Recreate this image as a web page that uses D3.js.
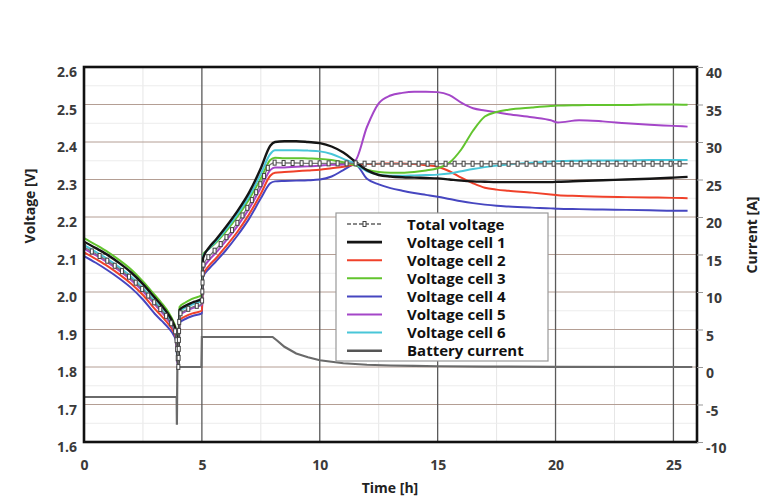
<!DOCTYPE html>
<html>
<head>
<meta charset="utf-8">
<script src="https://cdn.jsdelivr.net/npm/d3@7"></script>
<style>
  body { margin: 0; background: #fff; }
  text { font-family: "Open Sans", "DejaVu Sans", sans-serif; }
</style>
</head>
<body>
<script>
// time axis [h], shared by the voltage series
var times = [0, 0.5, 1, 1.5, 2, 2.5, 3, 3.3, 3.6, 3.8, 3.9, 3.97, 4.0,
             4.05, 4.3, 4.6, 5.0,
             5.05, 5.3, 5.6, 6, 6.5, 7, 7.5, 7.9, 8.1,
             8.5, 9, 9.5, 10, 10.5, 11, 11.5, 12, 12.5, 13, 13.5, 14, 14.5, 15,
             15.5, 16, 16.5, 17, 17.5, 18, 19, 19.8, 20.1, 21, 22, 23, 24, 25, 25.6];

// voltages [V]
var totalVoltage = [2.120, 2.102, 2.083, 2.061, 2.036, 2.006, 1.971, 1.950, 1.926, 1.904, 1.886, 1.83, 1.80,
                    1.940, 1.951, 1.960, 1.968,
                    2.070, 2.095, 2.114, 2.143, 2.184, 2.232, 2.290, 2.340, 2.345,
                    2.344, 2.344, 2.343, 2.343, 2.343, 2.343, 2.343, 2.342, 2.342, 2.342, 2.342, 2.342, 2.342, 2.342,
                    2.342, 2.342, 2.342, 2.342, 2.342, 2.342, 2.342, 2.342, 2.342, 2.342, 2.342, 2.342, 2.342, 2.342, 2.342];
var cell1 = [2.134, 2.117, 2.099, 2.077, 2.052, 2.021, 1.985, 1.963, 1.938, 1.915, 1.895, 1.83, 1.80,
             1.952, 1.963, 1.972, 1.982,
             2.090, 2.118, 2.140, 2.172, 2.215, 2.265, 2.330, 2.390, 2.400,
             2.402, 2.402, 2.400, 2.397, 2.388, 2.372, 2.348, 2.325, 2.312, 2.308, 2.306, 2.305, 2.304, 2.303,
             2.300, 2.297, 2.295, 2.294, 2.293, 2.293, 2.293, 2.293, 2.294, 2.296, 2.298, 2.300, 2.302, 2.305, 2.307];
var cell2 = [2.106, 2.088, 2.069, 2.047, 2.022, 1.992, 1.955, 1.935, 1.913, 1.894, 1.877, 1.82, 1.80,
             1.925, 1.935, 1.943, 1.950,
             2.045, 2.070, 2.090, 2.120, 2.160, 2.207, 2.262, 2.310, 2.318,
             2.320, 2.322, 2.324, 2.326, 2.330, 2.334, 2.340, 2.341, 2.342, 2.343, 2.343, 2.341, 2.338, 2.334,
             2.322, 2.305, 2.290, 2.278, 2.273, 2.270, 2.265, 2.260, 2.258, 2.256, 2.254, 2.253, 2.252, 2.251, 2.250];
var cell3 = [2.144, 2.126, 2.107, 2.085, 2.060, 2.028, 1.992, 1.970, 1.944, 1.920, 1.900, 1.84, 1.80,
             1.960, 1.972, 1.982, 1.992,
             2.100, 2.115, 2.132, 2.160, 2.200, 2.247, 2.303, 2.352, 2.358,
             2.357, 2.357, 2.356, 2.355, 2.352, 2.346, 2.338, 2.326, 2.320, 2.318, 2.318, 2.320, 2.324, 2.330,
             2.345, 2.380, 2.430, 2.468, 2.480, 2.486, 2.492, 2.496, 2.497, 2.498, 2.499, 2.499, 2.500, 2.500, 2.499];
var cell4 = [2.096, 2.078, 2.058, 2.036, 2.011, 1.980, 1.942, 1.923, 1.903, 1.885, 1.870, 1.81, 1.80,
             1.918, 1.928, 1.936, 1.943,
             2.040, 2.062, 2.082, 2.110, 2.150, 2.195, 2.250, 2.290, 2.295,
             2.296, 2.297, 2.298, 2.300, 2.308, 2.325, 2.340, 2.302, 2.287, 2.277, 2.270, 2.264, 2.259, 2.254,
             2.248, 2.242, 2.237, 2.233, 2.230, 2.228, 2.225, 2.223, 2.222, 2.221, 2.220, 2.219, 2.218, 2.217, 2.217];
var cell5 = [2.116, 2.098, 2.079, 2.057, 2.032, 2.002, 1.967, 1.946, 1.922, 1.901, 1.883, 1.82, 1.80,
             1.938, 1.948, 1.957, 1.966,
             2.060, 2.085, 2.105, 2.135, 2.175, 2.222, 2.278, 2.325, 2.332,
             2.332, 2.334, 2.335, 2.337, 2.339, 2.340, 2.350, 2.440, 2.503, 2.524, 2.531, 2.534, 2.534, 2.533,
             2.525, 2.505, 2.490, 2.484, 2.479, 2.474, 2.466, 2.458, 2.452, 2.458, 2.455, 2.450, 2.446, 2.443, 2.441];
var cell6 = [2.125, 2.107, 2.088, 2.066, 2.041, 2.010, 1.975, 1.953, 1.929, 1.907, 1.888, 1.83, 1.80,
             1.948, 1.958, 1.967, 1.977,
             2.095, 2.115, 2.135, 2.165, 2.207, 2.255, 2.315, 2.368, 2.378,
             2.378, 2.378, 2.377, 2.375, 2.368, 2.355, 2.342, 2.322, 2.313, 2.310, 2.310, 2.311, 2.312, 2.313,
             2.316, 2.322, 2.328, 2.333, 2.337, 2.340, 2.345, 2.348, 2.349, 2.350, 2.351, 2.351, 2.352, 2.352, 2.352];

// battery current [A], own time base
var currentTimes = [0, 3.93, 3.94, 3.96, 4.0, 4.98, 5.0, 8.0, 8.2, 8.5, 9, 9.5, 10, 10.5, 11, 12, 13, 14, 15, 17, 20, 25.8];
var current = [-4, -4, -7.7, 0, 0, 0, 4, 4, 3.5, 2.7, 1.8, 1.3, 0.9, 0.7, 0.5, 0.3, 0.2, 0.15, 0.1, 0.05, 0.02, 0];

// tick labels
var timeTicks = [0, 5, 10, 15, 20, 25];
var voltTicks = [1.6, 1.7, 1.8, 1.9, 2.0, 2.1, 2.2, 2.3, 2.4, 2.5, 2.6];
var ampTicks = [-10, -5, 0, 5, 10, 15, 20, 25, 30, 35, 40];

var legendNames = ["Total voltage", "Voltage cell 1", "Voltage cell 2", "Voltage cell 3",
                   "Voltage cell 4", "Voltage cell 5", "Voltage cell 6", "Battery current"];

draw();

function draw() {
  var W = 772, H = 504;
  var left = 84, right = 697, top = 67, bottom = 442;

  var svg = d3.select("body").append("svg")
    .attr("width", W).attr("height", H);

  var x = d3.scaleLinear().domain([0, 26]).range([left, right]);
  var y = d3.scaleLinear().domain([1.6, 2.6]).range([bottom, top]);
  var yA = d3.scaleLinear().domain([-10, 40]).range([bottom, top]);

  svg.append("clipPath").attr("id", "plot")
    .append("rect").attr("x", left).attr("y", top)
    .attr("width", right - left).attr("height", bottom - top);

  // faint minor grid
  var g = svg.append("g");
  d3.range(2.5, 26, 5).forEach(function(v) {
    g.append("line").attr("x1", x(v)).attr("x2", x(v)).attr("y1", top).attr("y2", bottom)
      .attr("stroke", "#e6e6e6").attr("stroke-width", 1);
  });
  d3.range(1.65, 2.6, 0.1).forEach(function(v) {
    g.append("line").attr("x1", left).attr("x2", right).attr("y1", y(v)).attr("y2", y(v))
      .attr("stroke", "#ececec").attr("stroke-width", 1);
  });
  // horizontal grid (every 0.1 V)
  voltTicks.forEach(function(v) {
    g.append("line").attr("x1", left).attr("x2", right).attr("y1", y(v)).attr("y2", y(v))
      .attr("stroke", "#b49e94").attr("stroke-width", 1);
  });
  // vertical grid (every 5 h)
  timeTicks.slice(1).forEach(function(v) {
    g.append("line").attr("x1", x(v)).attr("x2", x(v)).attr("y1", top).attr("y2", bottom)
      .attr("stroke", "#5a5a5a").attr("stroke-width", 1.3);
  });

  var plot = svg.append("g").attr("clip-path", "url(#plot)");

  // current
  var lineA = d3.line()
    .x(function(d, i) { return x(currentTimes[i]); })
    .y(function(d) { return yA(d); });
  plot.append("path").datum(current)
    .attr("d", lineA).attr("fill", "none")
    .attr("stroke", "#6a6a6a").attr("stroke-width", 2.2);

  var lineV = d3.line()
    .x(function(d, i) { return x(times[i]); })
    .y(function(d) { return y(d); })
    .curve(d3.curveMonotoneX);

  var cells = [
    { v: cell4, c: "#4646c0" },
    { v: cell2, c: "#f0412a" },
    { v: cell5, c: "#a446c8" },
    { v: cell3, c: "#62c42e" },
    { v: cell6, c: "#48c6d8" },
    { v: cell1, c: "#151515" }
  ];
  cells.forEach(function(s) {
    plot.append("path").datum(s.v)
      .attr("d", lineV).attr("fill", "none")
      .attr("stroke", s.c).attr("stroke-width", s.c == "#151515" ? 2.4 : 2);
  });

  // total voltage: gray line with small open markers
  var tot = plot.append("path").datum(totalVoltage)
    .attr("d", lineV).attr("fill", "none")
    .attr("stroke", "#777").attr("stroke-width", 1.3);
  var len = tot.node().getTotalLength();
  for (var l = 0; l < len; l += 9) {
    var p = tot.node().getPointAtLength(l);
    plot.append("rect").attr("x", p.x - 1.5).attr("y", p.y - 2.5)
      .attr("width", 3).attr("height", 5)
      .attr("fill", "#fff").attr("stroke", "#444").attr("stroke-width", 1);
  }

  // frame
  svg.append("rect").attr("x", left).attr("y", top)
    .attr("width", right - left).attr("height", bottom - top)
    .attr("fill", "none").attr("stroke", "#111").attr("stroke-width", 2.6);

  // axes
  var axL = svg.append("g").attr("transform", "translate(" + left + ",0)")
    .call(d3.axisLeft(y).tickValues(voltTicks).tickSize(0).tickPadding(7)
      .tickFormat(d3.format(".1f")));
  var axR = svg.append("g").attr("transform", "translate(" + right + ",0)")
    .call(d3.axisRight(yA).tickValues(ampTicks).tickSize(6).tickPadding(3)
      .tickFormat(function(d) { return String(d); }));
  var axB = svg.append("g").attr("transform", "translate(0," + bottom + ")")
    .call(d3.axisBottom(x).tickValues(timeTicks).tickSize(0).tickPadding(18));
  [axL, axR, axB].forEach(function(a) {
    a.select(".domain").remove();
    a.selectAll(".tick line").attr("stroke", "#999");
    a.selectAll("text").attr("font-size", 14).attr("font-weight", 700)
      .attr("fill", "#3a3a3a").attr("font-family", "Open Sans, sans-serif");
  });
  axL.selectAll("text").attr("dy", "0.7em");
  axR.selectAll("text").attr("dy", "0.75em");

  // axis titles
  svg.append("text").attr("x", 390).attr("y", 493).attr("text-anchor", "middle")
    .attr("font-size", 14).attr("font-weight", 700).attr("fill", "#222").text("Time [h]");
  svg.append("text").attr("transform", "translate(35,206) rotate(-90)").attr("text-anchor", "middle")
    .attr("font-size", 14).attr("font-weight", 700).attr("fill", "#222").text("Voltage [V]");
  svg.append("text").attr("transform", "translate(757,235) rotate(-90)").attr("text-anchor", "middle")
    .attr("font-size", 14).attr("font-weight", 700).attr("fill", "#222").text("Current [A]");

  // legend
  var lg = svg.append("g");
  lg.append("rect").attr("x", 336).attr("y", 213).attr("width", 212).attr("height", 148)
    .attr("fill", "#fff").attr("stroke", "#999").attr("stroke-width", 1.2);
  var legendColors = ["#888", "#151515", "#f0412a", "#62c42e", "#4646c0", "#a446c8", "#48c6d8", "#555"];
  legendNames.forEach(function(name, i) {
    var yy = 224 + i * 18.1;
    lg.append("line").attr("x1", 347).attr("x2", 382).attr("y1", yy).attr("y2", yy)
      .attr("stroke", legendColors[i]).attr("stroke-width", i == 1 || i == 7 ? 2.6 : 2)
      .attr("stroke-dasharray", i == 0 ? "4,2" : null);
    if (i == 0) {
      lg.append("rect").attr("x", 363).attr("y", yy - 2.5).attr("width", 3).attr("height", 5)
        .attr("fill", "#fff").attr("stroke", "#444");
    }
    lg.append("text").attr("x", 407).attr("y", yy + 5.5)
      .attr("font-size", 15).attr("font-weight", 700).attr("fill", "#111").text(name);
  });
}
</script>
</body>
</html>
